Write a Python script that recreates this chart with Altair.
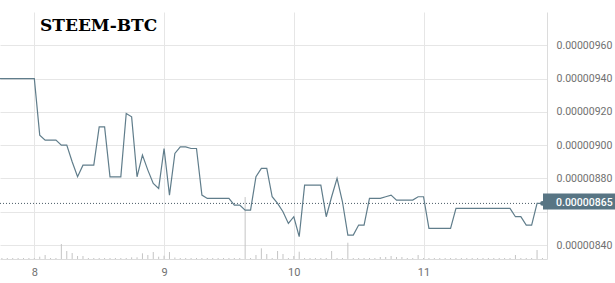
import altair as alt
import pandas as pd

# hours relative to day 8, 00:00
hours = list(range(-7, 95))
# price in satoshi (1e-8 BTC)
price_sat = [
    940, 940, 940, 940, 940, 940, 940,            # -7..-1
    940, 906, 903, 903, 903, 900, 900, 890, 881, 888,   # 0..9
    888, 888, 911, 911, 881, 881, 881, 919, 917, 881,   # 10..19
    894, 885, 877, 874, 898, 870, 895, 899, 899, 898,   # 20..29
    898, 870, 868, 868, 868, 868, 868, 864, 864, 861,   # 30..39
    861, 881, 886, 886, 869, 865, 860, 853, 857, 845,   # 40..49
    876, 876, 876, 876, 857, 869, 880, 866, 846, 846,   # 50..59
    852, 852, 868, 868, 868, 869, 870, 867, 867, 867,   # 60..69
    867, 869, 869, 850, 850, 850, 850, 850, 862, 862,   # 70..79
    862, 862, 862, 862, 862, 862, 862, 862, 862, 857,   # 80..89
    857, 852, 852, 865, 865,                            # 90..94
]
volume = [
    1, 1, 1, 1, 1, 1, 1,                                  # -7..-1
    1, 2.3, 4, 1, 1, 15, 8, 6, 3, 3,                      # 0..9
    1, 1, 1, 1, 1, 1, 1, 1, 1.7, 1.7,                     # 10..19
    5.7, 4, 7, 2.3, 3.3, 7, 1.5, 1, 1, 1,                 # 20..29
    1, 1, 1, 1, 1, 1, 1, 1, 1, 62,                        # 30..39
    1, 4, 10.7, 5, 1, 8, 5, 1, 3, 7.3,                    # 40..49
    1, 1, 1, 1, 1, 8, 1, 1, 16.3, 1,                      # 50..59
    1, 1, 1, 1, 2, 2, 3, 2, 2, 1,                         # 60..69
    1, 4, 1, 1, 1, 1, 1, 1, 1, 1,                         # 70..79
    1, 1, 1, 1, 1, 1, 1, 1, 1, 4,                         # 80..89
    1, 1, 1, 9, 1,                                        # 90..94
]
grid_prices = [840, 860, 880, 900, 920, 940, 960, 980]
day_ticks = [0, 24, 48, 72]
title_text = "STEEM-BTC"

df = pd.DataFrame({
    "hour": hours,
    "price": [p * 1e-8 for p in price_sat],
    "volume": volume,
})
last = pd.DataFrame({
    "hour": [hours[-1]],
    "price": [price_sat[-1] * 1e-8],
    "label": [f"{price_sat[-1] * 1e-8:.8f}"],
})
title_df = pd.DataFrame({"t": [title_text]})

W, H = 547, 247
xdom = [-6.35, 94.84]
xscale = alt.Scale(domain=xdom, nice=False, zero=False)
yscale = alt.Scale(domain=[831.6e-8, 980e-8], nice=False, zero=False)

LINE = "#607d8b"
DARK = "#587584"

x_axis = alt.Axis(
    values=day_ticks, labelExpr="'' + (8 + datum.value / 24)", title=None,
    grid=True, gridColor="#e6e6e6", domain=True, domainColor="#dcdcdc",
    ticks=False, labelPadding=7, labelFont="Roboto", labelFontSize=11,
    labelColor="#707070",
)
y_axis = alt.Axis(
    orient="right", values=[g * 1e-8 for g in grid_prices],
    labelExpr="(format(datum.value, '.8f') == '0.00000860' || datum.value > 0.0000097) ? '' : format(datum.value, '.8f')",
    title=None, grid=True, gridColor="#e6e6e6", domain=True, domainColor="#dcdcdc",
    ticks=False, labelPadding=9, labelFont="Roboto", labelFontSize=10.5,
    labelColor="#707070", labelAlign="left",
)

vol = alt.Chart(df).mark_rule(color="#c4c4c4", strokeWidth=1, clip=True).encode(
    x=alt.X("hour:Q", scale=xscale, axis=x_axis),
    y=alt.Y("volume:Q", scale=alt.Scale(domain=[0, 247.3], nice=False), axis=None),
    y2=alt.datum(0),
)

dotted = alt.Chart(last).mark_rule(color="#4b5d68", strokeDash=[1, 2], strokeWidth=1).encode(
    y=alt.Y("price:Q", scale=yscale, axis=y_axis),
)
line = alt.Chart(df).mark_line(color=LINE, strokeWidth=1.2, clip=True).encode(
    x=alt.X("hour:Q", scale=xscale, axis=x_axis),
    y=alt.Y("price:Q", scale=yscale, axis=y_axis),
)
pt = alt.Chart(last).mark_point(filled=True, shape="circle", size=22, color=DARK, opacity=1).encode(
    x=alt.X("hour:Q", scale=xscale),
    y=alt.Y("price:Q", scale=yscale),
)
box = alt.Chart(last).mark_rule(color=DARK, strokeWidth=16, strokeCap="butt", yOffset=-2).encode(
    x=alt.value(543), x2=alt.value(615),
    y=alt.Y("price:Q", scale=yscale),
)
box_text = alt.Chart(last).mark_text(
    color="white", font="Roboto", fontSize=10.5, fontWeight=500, align="left", baseline="middle"
).encode(
    x=alt.value(556),
    y=alt.Y("price:Q", scale=yscale),
    text="label:N",
)
title = alt.Chart(title_df).mark_text(
    font="DejaVu Serif", fontWeight="bold", fontSize=17, color="black",
    align="left", baseline="middle",
).encode(x=alt.value(40), y=alt.value(13.5), text="t:N")

price_layers = alt.layer(dotted, line, pt, box, box_text, title)

chart = alt.layer(vol, price_layers).resolve_scale(y="independent").properties(
    width=W, height=H,
    autosize=alt.AutoSizeParams(type="none"),
    padding={"left": 0, "top": 12, "right": 68, "bottom": 24},
).configure_view(stroke=None)

chart.save("out.html", embed_options={"renderer": "svg", "actions": False})
